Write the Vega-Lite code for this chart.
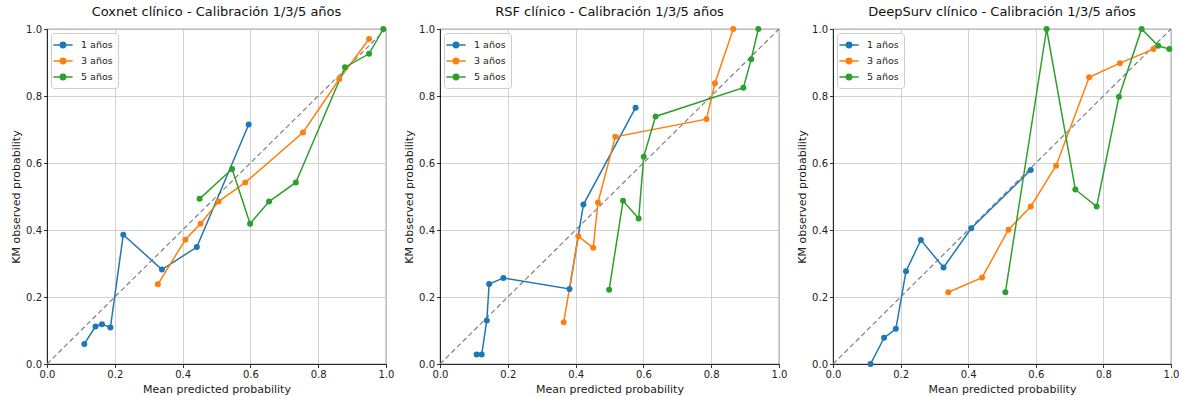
{
  "$schema": "https://vega.github.io/schema/vega-lite/v6.json",
  "background": "white",
  "padding": {"left": 10, "top": 5, "right": 5, "bottom": 3},
  "bounds": "flush",
  "spacing": 54,
  "config": {
    "font": "DejaVu Sans",
    "view": {"stroke": "#000000", "strokeWidth": 0.8},
    "title": {"fontSize": 13, "fontWeight": "normal", "color": "#111111", "offset": 5, "font": "DejaVu Sans"},
    "axis": {
      "grid": true, "gridColor": "#cccccc", "gridWidth": 0.9,
      "domainColor": "#000000", "domainWidth": 0.8,
      "tickColor": "#000000", "tickSize": 3.5, "tickWidth": 0.8,
      "labelFontSize": 10, "labelColor": "#222222", "labelPadding": 2,
      "titleFontSize": 11, "titleFontWeight": "normal", "titleColor": "#222222",
      "labelFlush": false, "labelOverlap": false, "format": ".1f"
    },
    "legend": {
      "orient": "top-left", "offset": 4, "padding": 5,
      "strokeColor": "#cccccc", "fillColor": "rgba(255,255,255,0.85)", "cornerRadius": 3,
      "labelFontSize": 9.5, "labelColor": "#222222", "rowPadding": 3, "labelOffset": 11,
      "symbolType": "M-1.6,0L1.6,0M-0.45,0A0.45,0.45,0,1,1,0.45,0A0.45,0.45,0,1,1,-0.45,0Z",
      "symbolSize": 144, "symbolStrokeWidth": 1.5, "symbolOpacity": 1
    }
  },
  "resolve": {"legend": {"fill": "independent", "stroke": "independent"}},
  "datasets": {
    "diag": [{"x": 0, "y": 0}, {"x": 1, "y": 1}],
    "cal": [
      {"modelo": "Coxnet", "serie": "1 años", "x": 0.110, "y": 0.060},
      {"modelo": "Coxnet", "serie": "1 años", "x": 0.143, "y": 0.112},
      {"modelo": "Coxnet", "serie": "1 años", "x": 0.162, "y": 0.119},
      {"modelo": "Coxnet", "serie": "1 años", "x": 0.187, "y": 0.109},
      {"modelo": "Coxnet", "serie": "1 años", "x": 0.225, "y": 0.386},
      {"modelo": "Coxnet", "serie": "1 años", "x": 0.339, "y": 0.282},
      {"modelo": "Coxnet", "serie": "1 años", "x": 0.442, "y": 0.349},
      {"modelo": "Coxnet", "serie": "1 años", "x": 0.595, "y": 0.715},
      {"modelo": "Coxnet", "serie": "3 años", "x": 0.327, "y": 0.238},
      {"modelo": "Coxnet", "serie": "3 años", "x": 0.408, "y": 0.371},
      {"modelo": "Coxnet", "serie": "3 años", "x": 0.453, "y": 0.419},
      {"modelo": "Coxnet", "serie": "3 años", "x": 0.506, "y": 0.485},
      {"modelo": "Coxnet", "serie": "3 años", "x": 0.585, "y": 0.542},
      {"modelo": "Coxnet", "serie": "3 años", "x": 0.755, "y": 0.691},
      {"modelo": "Coxnet", "serie": "3 años", "x": 0.862, "y": 0.850},
      {"modelo": "Coxnet", "serie": "3 años", "x": 0.950, "y": 0.970},
      {"modelo": "Coxnet", "serie": "5 años", "x": 0.450, "y": 0.493},
      {"modelo": "Coxnet", "serie": "5 años", "x": 0.546, "y": 0.582},
      {"modelo": "Coxnet", "serie": "5 años", "x": 0.599, "y": 0.419},
      {"modelo": "Coxnet", "serie": "5 años", "x": 0.655, "y": 0.485},
      {"modelo": "Coxnet", "serie": "5 años", "x": 0.734, "y": 0.542},
      {"modelo": "Coxnet", "serie": "5 años", "x": 0.879, "y": 0.886},
      {"modelo": "Coxnet", "serie": "5 años", "x": 0.950, "y": 0.926},
      {"modelo": "Coxnet", "serie": "5 años", "x": 0.992, "y": 1.000},
      {"modelo": "RSF", "serie": "1 años", "x": 0.108, "y": 0.028},
      {"modelo": "RSF", "serie": "1 años", "x": 0.123, "y": 0.028},
      {"modelo": "RSF", "serie": "1 años", "x": 0.138, "y": 0.130},
      {"modelo": "RSF", "serie": "1 años", "x": 0.145, "y": 0.239},
      {"modelo": "RSF", "serie": "1 años", "x": 0.187, "y": 0.257},
      {"modelo": "RSF", "serie": "1 años", "x": 0.382, "y": 0.224},
      {"modelo": "RSF", "serie": "1 años", "x": 0.423, "y": 0.476},
      {"modelo": "RSF", "serie": "1 años", "x": 0.577, "y": 0.765},
      {"modelo": "RSF", "serie": "3 años", "x": 0.365, "y": 0.125},
      {"modelo": "RSF", "serie": "3 años", "x": 0.408, "y": 0.381},
      {"modelo": "RSF", "serie": "3 años", "x": 0.452, "y": 0.347},
      {"modelo": "RSF", "serie": "3 años", "x": 0.466, "y": 0.482},
      {"modelo": "RSF", "serie": "3 años", "x": 0.517, "y": 0.678},
      {"modelo": "RSF", "serie": "3 años", "x": 0.786, "y": 0.731},
      {"modelo": "RSF", "serie": "3 años", "x": 0.811, "y": 0.838},
      {"modelo": "RSF", "serie": "3 años", "x": 0.865, "y": 1.000},
      {"modelo": "RSF", "serie": "5 años", "x": 0.499, "y": 0.222},
      {"modelo": "RSF", "serie": "5 años", "x": 0.540, "y": 0.487},
      {"modelo": "RSF", "serie": "5 años", "x": 0.586, "y": 0.434},
      {"modelo": "RSF", "serie": "5 años", "x": 0.601, "y": 0.619},
      {"modelo": "RSF", "serie": "5 años", "x": 0.636, "y": 0.739},
      {"modelo": "RSF", "serie": "5 años", "x": 0.895, "y": 0.825},
      {"modelo": "RSF", "serie": "5 años", "x": 0.918, "y": 0.910},
      {"modelo": "RSF", "serie": "5 años", "x": 0.939, "y": 1.000},
      {"modelo": "DeepSurv", "serie": "1 años", "x": 0.111, "y": 0.000},
      {"modelo": "DeepSurv", "serie": "1 años", "x": 0.151, "y": 0.078},
      {"modelo": "DeepSurv", "serie": "1 años", "x": 0.186, "y": 0.105},
      {"modelo": "DeepSurv", "serie": "1 años", "x": 0.216, "y": 0.277},
      {"modelo": "DeepSurv", "serie": "1 años", "x": 0.260, "y": 0.370},
      {"modelo": "DeepSurv", "serie": "1 años", "x": 0.327, "y": 0.288},
      {"modelo": "DeepSurv", "serie": "1 años", "x": 0.409, "y": 0.405},
      {"modelo": "DeepSurv", "serie": "1 años", "x": 0.585, "y": 0.579},
      {"modelo": "DeepSurv", "serie": "3 años", "x": 0.341, "y": 0.214},
      {"modelo": "DeepSurv", "serie": "3 años", "x": 0.441, "y": 0.258},
      {"modelo": "DeepSurv", "serie": "3 años", "x": 0.519, "y": 0.401},
      {"modelo": "DeepSurv", "serie": "3 años", "x": 0.585, "y": 0.470},
      {"modelo": "DeepSurv", "serie": "3 años", "x": 0.660, "y": 0.592},
      {"modelo": "DeepSurv", "serie": "3 años", "x": 0.758, "y": 0.856},
      {"modelo": "DeepSurv", "serie": "3 años", "x": 0.849, "y": 0.898},
      {"modelo": "DeepSurv", "serie": "3 años", "x": 0.948, "y": 0.940},
      {"modelo": "DeepSurv", "serie": "5 años", "x": 0.510, "y": 0.214},
      {"modelo": "DeepSurv", "serie": "5 años", "x": 0.632, "y": 1.000},
      {"modelo": "DeepSurv", "serie": "5 años", "x": 0.717, "y": 0.521},
      {"modelo": "DeepSurv", "serie": "5 años", "x": 0.780, "y": 0.470},
      {"modelo": "DeepSurv", "serie": "5 años", "x": 0.846, "y": 0.798},
      {"modelo": "DeepSurv", "serie": "5 años", "x": 0.913, "y": 1.000},
      {"modelo": "DeepSurv", "serie": "5 años", "x": 0.962, "y": 0.950},
      {"modelo": "DeepSurv", "serie": "5 años", "x": 0.995, "y": 0.940}
    ]
  },
  "hconcat": [
    {
      "width": 339, "height": 335,
      "title": {"text": "Coxnet clínico - Calibración 1/3/5 años", "fontWeight": "normal", "fontSize": 13},
      "layer": [
        {"data": {"name": "diag"}, "mark": {"type": "line", "color": "#808080", "strokeDash": [5, 3], "strokeWidth": 1.2},
         "encoding": {"x": {"field": "x", "type": "quantitative", "scale": {"domain": [0, 1]}, "title": "Mean predicted probability", "axis": {"values": [0, 0.2, 0.4, 0.6, 0.8, 1.0]}},
                      "y": {"field": "y", "type": "quantitative", "scale": {"domain": [0, 1]}, "title": "KM observed probability", "axis": {"values": [0, 0.2, 0.4, 0.6, 0.8, 1.0]}}}},
        {"data": {"name": "cal"}, "transform": [{"filter": "datum.modelo === 'Coxnet'"}],
         "mark": {"type": "line", "strokeWidth": 1.5},
         "encoding": {"x": {"field": "x", "type": "quantitative"}, "y": {"field": "y", "type": "quantitative"}, "order": {"field": "x"},
                      "stroke": {"field": "serie", "type": "nominal", "scale": {"domain": ["1 años", "3 años", "5 años"], "range": ["#1f77b4", "#ff7f0e", "#2ca02c"]}, "legend": {"title": null}}}},
        {"data": {"name": "cal"}, "transform": [{"filter": "datum.modelo === 'Coxnet'"}],
         "mark": {"type": "point", "filled": true, "size": 36, "opacity": 1, "strokeWidth": 0},
         "encoding": {"x": {"field": "x", "type": "quantitative"}, "y": {"field": "y", "type": "quantitative"},
                      "fill": {"field": "serie", "type": "nominal", "scale": {"domain": ["1 años", "3 años", "5 años"], "range": ["#1f77b4", "#ff7f0e", "#2ca02c"]}, "legend": {"title": null}}}}
      ]
    },
    {
      "width": 339, "height": 335,
      "title": {"text": "RSF clínico - Calibración 1/3/5 años", "fontWeight": "normal", "fontSize": 13},
      "layer": [
        {"data": {"name": "diag"}, "mark": {"type": "line", "color": "#808080", "strokeDash": [5, 3], "strokeWidth": 1.2},
         "encoding": {"x": {"field": "x", "type": "quantitative", "scale": {"domain": [0, 1]}, "title": "Mean predicted probability", "axis": {"values": [0, 0.2, 0.4, 0.6, 0.8, 1.0]}},
                      "y": {"field": "y", "type": "quantitative", "scale": {"domain": [0, 1]}, "title": "KM observed probability", "axis": {"values": [0, 0.2, 0.4, 0.6, 0.8, 1.0]}}}},
        {"data": {"name": "cal"}, "transform": [{"filter": "datum.modelo === 'RSF'"}],
         "mark": {"type": "line", "strokeWidth": 1.5},
         "encoding": {"x": {"field": "x", "type": "quantitative"}, "y": {"field": "y", "type": "quantitative"}, "order": {"field": "x"},
                      "stroke": {"field": "serie", "type": "nominal", "scale": {"domain": ["1 años", "3 años", "5 años"], "range": ["#1f77b4", "#ff7f0e", "#2ca02c"]}, "legend": {"title": null}}}},
        {"data": {"name": "cal"}, "transform": [{"filter": "datum.modelo === 'RSF'"}],
         "mark": {"type": "point", "filled": true, "size": 36, "opacity": 1, "strokeWidth": 0},
         "encoding": {"x": {"field": "x", "type": "quantitative"}, "y": {"field": "y", "type": "quantitative"},
                      "fill": {"field": "serie", "type": "nominal", "scale": {"domain": ["1 años", "3 años", "5 años"], "range": ["#1f77b4", "#ff7f0e", "#2ca02c"]}, "legend": {"title": null}}}}
      ]
    },
    {
      "width": 338, "height": 335,
      "title": {"text": "DeepSurv clínico - Calibración 1/3/5 años", "fontWeight": "normal", "fontSize": 13},
      "layer": [
        {"data": {"name": "diag"}, "mark": {"type": "line", "color": "#808080", "strokeDash": [5, 3], "strokeWidth": 1.2},
         "encoding": {"x": {"field": "x", "type": "quantitative", "scale": {"domain": [0, 1]}, "title": "Mean predicted probability", "axis": {"values": [0, 0.2, 0.4, 0.6, 0.8, 1.0]}},
                      "y": {"field": "y", "type": "quantitative", "scale": {"domain": [0, 1]}, "title": "KM observed probability", "axis": {"values": [0, 0.2, 0.4, 0.6, 0.8, 1.0]}}}},
        {"data": {"name": "cal"}, "transform": [{"filter": "datum.modelo === 'DeepSurv'"}],
         "mark": {"type": "line", "strokeWidth": 1.5},
         "encoding": {"x": {"field": "x", "type": "quantitative"}, "y": {"field": "y", "type": "quantitative"}, "order": {"field": "x"},
                      "stroke": {"field": "serie", "type": "nominal", "scale": {"domain": ["1 años", "3 años", "5 años"], "range": ["#1f77b4", "#ff7f0e", "#2ca02c"]}, "legend": {"title": null}}}},
        {"data": {"name": "cal"}, "transform": [{"filter": "datum.modelo === 'DeepSurv'"}],
         "mark": {"type": "point", "filled": true, "size": 36, "opacity": 1, "strokeWidth": 0},
         "encoding": {"x": {"field": "x", "type": "quantitative"}, "y": {"field": "y", "type": "quantitative"},
                      "fill": {"field": "serie", "type": "nominal", "scale": {"domain": ["1 años", "3 años", "5 años"], "range": ["#1f77b4", "#ff7f0e", "#2ca02c"]}, "legend": {"title": null}}}}
      ]
    }
  ]
}
